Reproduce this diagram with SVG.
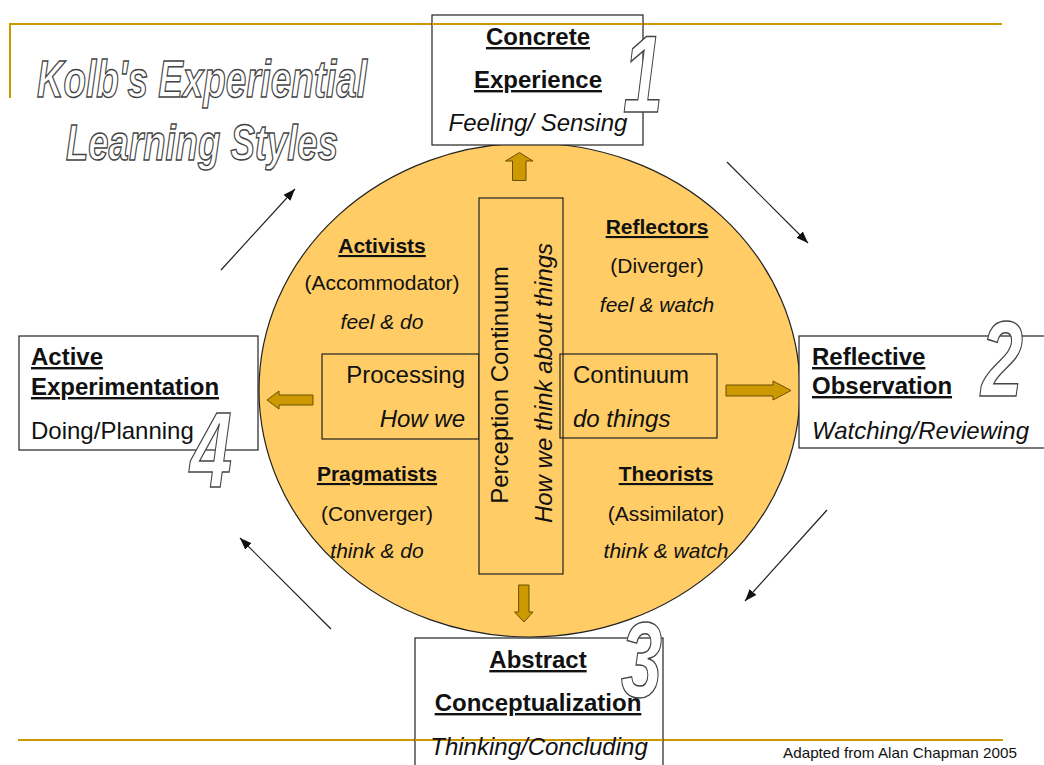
<svg xmlns="http://www.w3.org/2000/svg" width="1044" height="765" viewBox="0 0 1044 765">
<defs>
<style>
text{font-family:"Liberation Sans",Arial,sans-serif;fill:#111}
.box{fill:#fff;stroke:#222;stroke-width:1.2}
.inner{fill:#FFCC66;stroke:#222;stroke-width:1.2}
.lbl{font-size:24px}
.b{font-weight:bold;text-decoration:underline}
.i{font-style:italic}
.c{font-size:21px;text-anchor:middle}
.mid{text-anchor:middle}
.out{fill:#fff;stroke:#444;stroke-width:1.5;font-weight:bold;font-style:italic}
.gold{stroke:#CC9900;stroke-width:2;fill:none}
.blk{fill:#CC9900;stroke:#6b5000;stroke-width:1}
.thin{stroke:#222;stroke-width:1.2;fill:none;marker-end:url(#ah)}
</style>
<marker id="ah" viewBox="0 0 12 10" refX="12" refY="5" markerWidth="12" markerHeight="10" markerUnits="userSpaceOnUse" orient="auto">
<path d="M0,0.5 L12,5 L0,9.5 z" fill="#111"/>
</marker>
</defs>
<rect width="1044" height="765" fill="#fff"/>

<g id="frame">
<polyline class="gold" points="10,98 10,24 1002,24"/>
<line class="gold" x1="18" y1="740" x2="1003" y2="740"/>
</g>

<g id="title">
<text class="out" x="37" y="97" font-size="52" textLength="330" lengthAdjust="spacingAndGlyphs">Kolb's Experiential</text>
<text class="out" x="66" y="160" font-size="50" textLength="272" lengthAdjust="spacingAndGlyphs">Learning Styles</text>
</g>

<g id="circle">
<ellipse cx="529.5" cy="390" rx="270.5" ry="247" class="inner"/>
</g>

<g id="processing">
<rect x="322" y="354" width="157" height="85" fill="none" stroke="#222" stroke-width="1.2"/>
<text class="lbl" x="465" y="383" text-anchor="end">Processing</text>
<text class="lbl i" x="465" y="427" text-anchor="end">How we</text>
</g>

<g id="perception">
<rect x="479" y="198" width="84" height="376" class="inner"/>
<text class="lbl" transform="translate(508,385) rotate(-90)" text-anchor="middle">Perception Continuum</text>
<text class="lbl i" font-size="23" transform="translate(552,383) rotate(-90)" text-anchor="middle">How we think about things</text>
</g>

<g id="continuum">
<rect x="560" y="354" width="157" height="84" fill="none" stroke="#222" stroke-width="1.2"/>
<text class="lbl" x="573" y="383">Continuum</text>
<text class="lbl i" x="573" y="427">do things</text>
</g>

<g id="activists">
<text class="c b" x="382" y="253">Activists</text>
<text class="c" x="382" y="290">(Accommodator)</text>
<text class="c i" x="382" y="329">feel &amp; do</text>
</g>
<g id="reflectors">
<text class="c b" x="657" y="234">Reflectors</text>
<text class="c" x="657" y="273">(Diverger)</text>
<text class="c i" x="657" y="312">feel &amp; watch</text>
</g>
<g id="pragmatists">
<text class="c b" x="377" y="481">Pragmatists</text>
<text class="c" x="377" y="521">(Converger)</text>
<text class="c i" x="377" y="558">think &amp; do</text>
</g>
<g id="theorists">
<text class="c b" x="666" y="481">Theorists</text>
<text class="c" x="666" y="521">(Assimilator)</text>
<text class="c i" x="666" y="558">think &amp; watch</text>
</g>

<g id="concrete-experience">
<rect x="432" y="15" width="211" height="130" class="box"/>
<line class="gold" x1="432" y1="24" x2="643" y2="24"/>
<text class="lbl b mid" x="538" y="45">Concrete</text>
<text class="lbl b mid" x="538" y="88">Experience</text>
<text class="lbl i mid" x="538" y="131">Feeling/ Sensing</text>
<text class="out" x="623" y="112" font-size="110" textLength="40" lengthAdjust="spacingAndGlyphs">1</text>
</g>

<g id="reflective-observation">
<rect x="799" y="336" width="260" height="112" class="box"/>
<text class="lbl b" x="812" y="365">Reflective</text>
<text class="lbl b" x="812" y="394">Observation</text>
<text class="lbl i" x="812" y="439">Watching/Reviewing</text>
<text class="out" x="981" y="396" font-size="108" textLength="42" lengthAdjust="spacingAndGlyphs">2</text>
</g>

<g id="abstract-conceptualization">
<rect x="415" y="638" width="248" height="140" class="box"/>
<line class="gold" x1="415" y1="740" x2="663" y2="740"/>
<text class="lbl b mid" x="538" y="668">Abstract</text>
<text class="lbl b mid" x="538" y="711">Conceptualization</text>
<text class="lbl i mid" x="539" y="755">Thinking/Concluding</text>
<text class="out" x="621" y="697" font-size="108" textLength="41" lengthAdjust="spacingAndGlyphs">3</text>
</g>

<g id="active-experimentation">
<rect x="19" y="336" width="239" height="114" class="box"/>
<text class="lbl b" x="31" y="365">Active</text>
<text class="lbl b" x="31" y="395">Experimentation</text>
<text class="lbl" x="31" y="439">Doing/Planning</text>
<text class="out" x="190" y="487" font-size="108" textLength="42" lengthAdjust="spacingAndGlyphs">4</text>
</g>

<g id="connectors">
<path class="blk" d="M512.5,180.5 L512.5,161 L505.5,161 L519.5,152.5 L533,161 L526,161 L526,180.5 Z"/>
<path class="blk" d="M518.6,585 L529,585 L529,612 L533,612 L524,622 L514.5,612 L518.6,612 Z"/>
<path class="blk" d="M313,395 L279,395 L279,391 L267,400 L279,409 L279,405 L313,405 Z"/>
<path class="blk" d="M726,385 L773,385 L773,381 L791,390.5 L773,400 L773,396 L726,396 Z"/>
<line class="thin" x1="221" y1="270" x2="295" y2="189"/>
<line class="thin" x1="727" y1="162" x2="808" y2="243"/>
<line class="thin" x1="827" y1="510" x2="745" y2="601"/>
<line class="thin" x1="331" y1="629" x2="240" y2="538"/>
</g>

<text x="1017" y="758" font-size="15" text-anchor="end" textLength="234" lengthAdjust="spacingAndGlyphs">Adapted from Alan Chapman 2005</text>
</svg>
